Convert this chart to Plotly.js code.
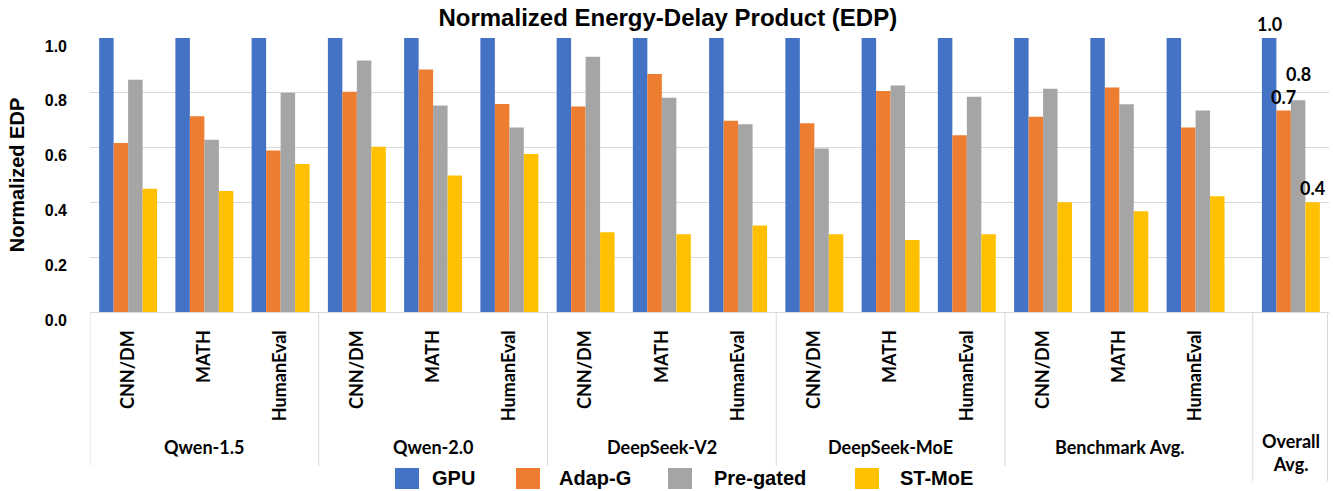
<!DOCTYPE html>
<html>
<head>
<meta charset="utf-8">
<script src="https://cdn.plot.ly/plotly-3.0.1.min.js"></script>
<style>html,body{margin:0;padding:0;background:#fff;}#chart{width:1333px;height:491px;}</style>
</head>
<body>
<div id="chart"></div>
<script>
// ---- data ----
const groups = ['Qwen-1.5', 'Qwen-2.0', 'DeepSeek-V2', 'DeepSeek-MoE', 'Benchmark Avg.'];
const datasets = ['CNN/DM', 'MATH', 'HumanEval'];
const overallLabel = 'Overall<br>Avg.';
const seriesNames = ['GPU', 'Adap-G', 'Pre-gated', 'ST-MoE'];
const gpu      = [1.0, 1.0, 1.0, 1.0, 1.0, 1.0, 1.0, 1.0, 1.0, 1.0, 1.0, 1.0, 1.0, 1.0, 1.0, 1.0];
const adapG    = [0.617, 0.714, 0.589, 0.804, 0.885, 0.759, 0.750, 0.869, 0.698, 0.689, 0.807, 0.645, 0.713, 0.819, 0.673, 0.735];
const preGated = [0.848, 0.629, 0.800, 0.918, 0.754, 0.673, 0.932, 0.782, 0.685, 0.597, 0.827, 0.786, 0.815, 0.758, 0.735, 0.773];
const stMoE    = [0.450, 0.442, 0.540, 0.603, 0.498, 0.577, 0.291, 0.284, 0.316, 0.284, 0.263, 0.284, 0.401, 0.368, 0.422, 0.401];
const yTicks = [0, 0.2, 0.4, 0.6, 0.8, 1.0];

// ---- layout constants ----
const colors = ['#4472C4', '#ED7D31', '#A5A5A5', '#FFC000'];
const W = 1333, H = 491, ML = 90, MR = 4, MT = 38, MB = 179;
const PW = W - ML - MR, PH = H - MT - MB;
const GAP = 0.25;      // gap before the overall category
const BARGAP = 0.24;
const nCat = groups.length * datasets.length;

const xs = [];
const tickText = [];
for (let g = 0; g < groups.length; g++) for (let d = 0; d < datasets.length; d++) { xs.push(g * datasets.length + d); tickText.push(datasets[d]); }
const overallX = nCat + GAP;
xs.push(overallX); tickText.push('');
const xMin = -0.5, xMax = overallX + 0.5;

const px2x = p => (p - ML) / PW;
const py2y = p => (H - MB - p) / PH;
const boldLato = {family: 'Lato, Carlito, "Open Sans", sans-serif', size: 18, color: '#000', weight: 700};
const boldArial = (s) => ({family: '"Liberation Sans", Arial, sans-serif', size: s, color: '#000', weight: 700});

const allSeries = [gpu, adapG, preGated, stMoE];
const traces = allSeries.map((vals, i) => ({
  type: 'bar', name: seriesNames[i], x: xs, y: vals,
  marker: {color: colors[i], line: {width: 0}},
  hoverinfo: 'skip', showlegend: false
}));

const shapes = [];
const annotations = [];
// group separators
for (let g = 0; g <= groups.length - 1; g++) {
  const xv = g * datasets.length - 0.5;
  shapes.push({type: 'line', xref: 'x', yref: 'paper', x0: xv, x1: xv, y0: 0, y1: py2y(466), line: {color: '#d9d9d9', width: 1}});
}
[overallX - 0.5, overallX + 0.48].forEach(xv => shapes.push({type: 'line', xref: 'x', yref: 'paper', x0: xv, x1: xv, y0: 0, y1: py2y(481), line: {color: '#d9d9d9', width: 1}}));
// group labels
groups.forEach((g, i) => annotations.push({xref: 'x', yref: 'paper', x: i * datasets.length + 1, y: py2y(447), text: g, showarrow: false, font: boldLato, xanchor: 'center', yanchor: 'middle'}));
annotations.push({xref: 'x', yref: 'paper', x: overallX, y: py2y(452), text: overallLabel, showarrow: false, font: boldLato, xanchor: 'center', yanchor: 'middle'});
// overall value labels
const barW = (1 - BARGAP) / allSeries.length;
const extraShift = [0, 0, 12, 0];
allSeries.forEach((vals, i) => {
  const v = vals[vals.length - 1];
  annotations.push({xref: 'x', yref: 'y', x: overallX + (i - 1.5) * barW, y: v, text: v.toFixed(1), showarrow: false,
    font: {family: 'Lato, Carlito, sans-serif', size: 18, color: '#000', weight: 700}, xanchor: 'center', yanchor: 'bottom', yshift: 1 + extraShift[i]});
});
// legend (custom, large squares)
const legSq = [395, 516, 668, 855];
const legTx = [430, 557, 712, 898];
seriesNames.forEach((n, i) => {
  shapes.push({type: 'rect', xref: 'paper', yref: 'paper', x0: px2x(legSq[i]), x1: px2x(legSq[i] + 24), y0: py2y(489), y1: py2y(468), fillcolor: colors[i], line: {width: 0}});
  annotations.push({xref: 'paper', yref: 'paper', x: px2x(legTx[i]), y: py2y(478), text: n, showarrow: false, font: boldArial(20), xanchor: 'left', yanchor: 'middle'});
});

const layout = {
  width: W, height: H,
  margin: {l: ML, r: MR, t: MT, b: MB},
  paper_bgcolor: '#fff', plot_bgcolor: '#fff',
  title: {text: 'Normalized Energy-Delay Product (EDP)', font: boldArial(24), x: 0.501, xref: 'container', xanchor: 'center', y: 1 - 18 / H, yref: 'container', yanchor: 'middle'},
  barmode: 'group', bargap: BARGAP, bargroupgap: 0,
  showlegend: false,
  xaxis: {range: [xMin, xMax], tickmode: 'array', tickvals: xs, ticktext: tickText, tickangle: -90, ticks: '',
    tickfont: boldLato, ticklabelstandoff: 10, showgrid: false, zeroline: false, showline: true, linecolor: '#d9d9d9', linewidth: 1, automargin: false, fixedrange: true},
  yaxis: {range: [0, 1.0], tickmode: 'array', tickvals: yTicks, ticktext: yTicks.map(v => v.toFixed(1)), tickfont: boldArial(16),
    ticklabelshift: 8, ticklabelstandoff: 22, showgrid: true, gridcolor: '#d9d9d9', gridwidth: 1, zeroline: false, showline: false,
    title: {text: 'Normalized EDP', font: boldArial(20), standoff: 14}, automargin: false, fixedrange: true},
  shapes: shapes, annotations: annotations
};
Plotly.newPlot('chart', traces, layout, {displayModeBar: false, staticPlot: true});
</script>
</body>
</html>
